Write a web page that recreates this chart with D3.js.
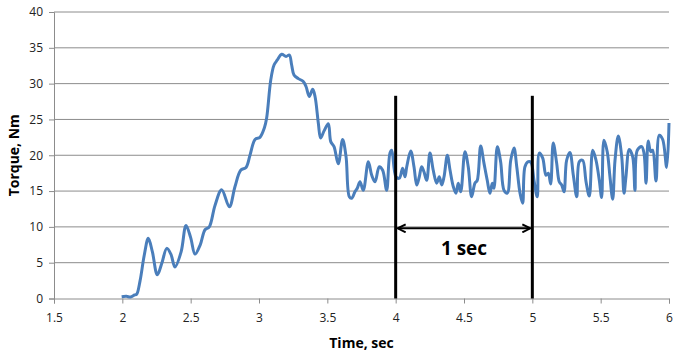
<!DOCTYPE html>
<html><head><meta charset="utf-8">
<script src="https://cdn.jsdelivr.net/npm/d3@7/dist/d3.min.js"></script>
<style>body{margin:0;background:#fff}svg{display:block}</style>
</head><body>
<svg id="c" width="680" height="358"></svg>
<script>
const times = [1.995,2.03,2.06,2.09,2.105,2.13,2.16,2.19,2.22,2.256,2.29,2.325,2.355,2.385,2.43,2.466,2.50,2.532,2.57,2.605,2.636,2.678,2.727,2.783,2.824,2.866,2.905,2.934,2.971,3.007,3.039,3.056,3.086,3.110,3.134,3.166,3.198,3.222,3.239,3.256,3.288,3.324,3.344,3.368,3.393,3.410,3.434,3.451,3.476,3.507,3.525,3.549,3.580,3.612,3.637,3.661,3.678,3.702,3.719,3.739,3.763,3.800,3.825,3.849,3.880,3.905,3.934,3.958,3.971,4.002,4.027,4.051,4.068,4.081,4.110,4.134,4.154,4.173,4.190,4.207,4.227,4.251,4.275,4.300,4.319,4.337,4.354,4.378,4.398,4.422,4.441,4.458,4.476,4.507,4.531,4.556,4.580,4.597,4.622,4.646,4.670,4.690,4.707,4.719,4.744,4.768,4.793,4.817,4.842,4.866,4.886,4.910,4.929,4.946,4.970,4.99,5.012,5.036,5.051,5.076,5.100,5.117,5.134,5.153,5.178,5.197,5.215,5.232,5.251,5.275,5.300,5.325,5.344,5.368,5.393,5.417,5.442,5.466,5.490,5.507,5.524,5.548,5.568,5.588,5.605,5.629,5.654,5.671,5.685,5.709,5.734,5.751,5.768,5.800,5.817,5.832,5.848,5.866,5.880,5.905,5.929,5.954,5.983,6.000];
const torque = [0.25,0.3,0.2,0.5,0.6,2.5,6.0,8.4,6.5,3.3,5.0,7.0,6.2,4.4,6.5,10.2,8.5,6.2,7.5,9.6,10.0,13.0,15.2,12.8,15.6,17.9,18.3,20.0,22.2,22.5,23.8,25.2,30.5,32.6,33.3,34.1,33.8,34.0,32.6,31.2,30.7,30.3,29.6,28.2,29.2,28.2,24.5,22.4,23.4,24.4,21.9,21.2,18.8,22.2,19.8,14.2,14.0,14.9,15.4,16.3,15.1,19.1,17.2,16.3,18.4,17.9,15.1,20.3,20.7,17.0,16.8,18.2,17.0,18.4,20.6,18.4,15.85,17.0,18.4,17.7,16.5,20.3,17.9,16.1,17.0,15.85,17.0,20.0,17.9,15.6,14.7,16.1,14.9,20.5,18.4,14.2,16.1,16.5,21.3,18.9,16.5,14.7,16.1,15.4,21.2,19.1,15.1,14.7,19.3,21.0,18.4,14.7,13.3,18.4,19.1,19.0,16.5,14.2,20.3,19.6,17.2,17.5,16.0,21.7,18.9,16.3,15.85,14.9,19.3,20.4,17.2,14.2,19.1,19.3,16.3,14.3,20.7,19.3,16.5,14.1,22.1,20.5,17.0,13.85,19.3,22.7,19.8,14.7,17.0,20.8,19.8,15.1,20.7,21.2,20.3,16.1,22.0,20.5,20.7,16.4,22.8,22.2,18.3,24.5];
const xTicks = [1.5,2,2.5,3,3.5,4,4.5,5,5.5,6];
const yTicks = [0,5,10,15,20,25,30,35,40];
const markerTimes = [4,5];
const markerTop = 28.3;
const arrowLevel = 9.8;
const arrowLabel = "1 sec";
const xTitle = "Time, sec";
const yTitle = "Torque, Nm";

const svg = d3.select("#c");
const x = d3.scaleLinear().domain([1.5,6]).range([54,669]);
const y = d3.scaleLinear().domain([0,40]).range([298.5,12]);
const font = "'Open Sans', 'DejaVu Sans', sans-serif";

// gridlines
svg.append("g").selectAll("line").data(yTicks.filter(d=>d>0)).join("line")
  .attr("x1",x(1.5)).attr("x2",x(6)).attr("y1",d=>y(d)).attr("y2",d=>y(d))
  .attr("stroke","#8c8c8c").attr("stroke-width",1);

// axes
const gx = svg.append("g").attr("transform",`translate(0,${y(0)})`)
  .call(d3.axisBottom(x).tickValues(xTicks).tickSize(5).tickPadding(10).tickFormat(d3.format("")));
const gy = svg.append("g").attr("transform",`translate(${x(1.5)},0)`)
  .call(d3.axisLeft(y).tickValues(yTicks).tickSize(5).tickPadding(6));
[gx,gy].forEach(g=>{
  g.select(".domain").attr("stroke","#8c8c8c");
  g.selectAll(".tick line").attr("stroke","#8c8c8c");
  g.selectAll("text").attr("font-family",font).attr("font-size",12).attr("fill","#222");
});

// curve
const data = times.map((t,i)=>[t,torque[i]]);
svg.append("path").datum(data)
  .attr("d",d3.line().x(d=>x(d[0])).y(d=>y(d[1])).curve(d3.curveCatmullRom.alpha(0.5)))
  .attr("fill","none").attr("stroke","#4a7ebb").attr("stroke-width",3).attr("stroke-linejoin","round");

// marker lines
svg.append("g").selectAll("line").data(markerTimes).join("line")
  .attr("x1",d=>x(d)).attr("x2",d=>x(d)).attr("y1",y(markerTop)).attr("y2",y(0))
  .attr("stroke","#000").attr("stroke-width",3);

// arrow
const defs = svg.append("defs");
defs.append("marker").attr("id","ah").attr("viewBox","0 0 10 10").attr("refX",9).attr("refY",5)
  .attr("markerWidth",10).attr("markerHeight",10).attr("markerUnits","userSpaceOnUse").attr("orient","auto-start-reverse")
  .append("path").attr("d","M1,1 L9,5 L1,9").attr("fill","none").attr("stroke","#000").attr("stroke-width",2);
svg.append("line").attr("x1",x(markerTimes[0])+2).attr("x2",x(markerTimes[1])-2)
  .attr("y1",y(arrowLevel)).attr("y2",y(arrowLevel))
  .attr("stroke","#000").attr("stroke-width",2)
  .attr("marker-start","url(#ah)").attr("marker-end","url(#ah)");
svg.append("text").attr("x",(x(4)+x(5))/2).attr("y",y(arrowLevel)+27)
  .attr("text-anchor","middle").attr("font-family",font).attr("font-weight","bold").attr("font-size",19)
  .text(arrowLabel);

// titles
svg.append("text").attr("x",(x(1.5)+x(6))/2).attr("y",348).attr("text-anchor","middle")
  .attr("font-family",font).attr("font-weight","bold").attr("font-size",14).text(xTitle);
svg.append("text").attr("transform",`translate(19,${(y(0)+y(40))/2}) rotate(-90)`).attr("text-anchor","middle")
  .attr("font-family",font).attr("font-weight","bold").attr("font-size",14).text(yTitle);
</script>
</body></html>
